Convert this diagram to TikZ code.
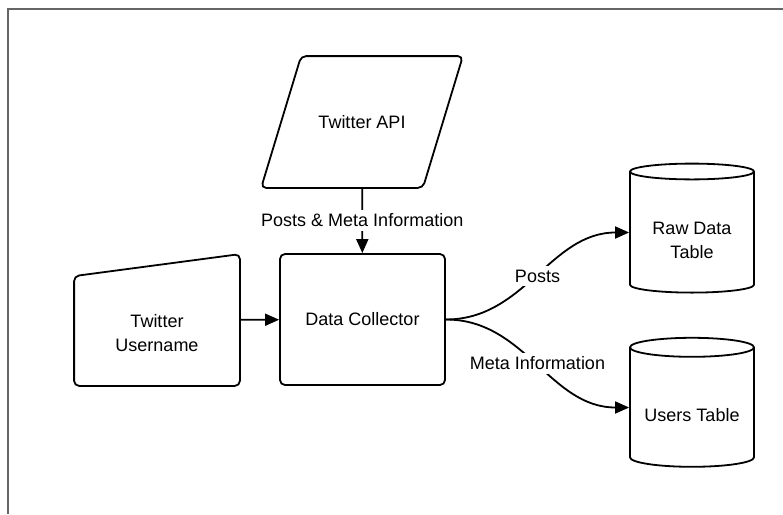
\documentclass[tikz,border=0pt]{standalone}
\usepackage{fontspec}
\setmainfont{Liberation Sans}
\usetikzlibrary{positioning,shapes.geometric,arrows.meta}

\begin{document}
\begin{tikzpicture}[x=1pt,y=-1pt,line width=1.8pt,
  every node/.style={font=\fontsize{18}{24}\selectfont,align=center},
  box/.style={draw,rounded corners=5pt,minimum width=165pt,minimum height=131pt,inner sep=0pt},
  slot/.style={minimum width=160pt,minimum height=130pt,inner sep=0pt},
  tank/.style={draw,cylinder,shape border rotate=90,aspect=0.2,minimum width=124pt,minimum height=129pt,inner sep=0pt,text height=28pt},
  flow/.style={-{Triangle[length=14pt,width=12pt]}},
  tag/.style={fill=white,inner sep=4pt}]
\useasboundingbox (0,0) rectangle (783,514);
\draw[line width=1.2pt,black!60] (8,514)--(8,9)--(783,9);
\node[slot] (api) at (362,122) {Twitter API};
\draw[rounded corners=5pt] ([xshift=20pt]api.north west)--([xshift=20pt]api.north east)--([xshift=-20pt]api.south east)--([xshift=-20pt]api.south west)--cycle;
\node[box] (dc) at (362.5,319.5) {Data Collector};
\node[slot,minimum width=164pt] (user) at (157,320) {};
\node (usertext) at (157,333) {Twitter\\Username};
\draw[rounded corners=5pt] (user.south west)--([yshift=-22pt]user.north west)--(user.north east)--(user.south east)--cycle;
\node[tank,text height=53pt] (raw) at (692,232.5) {Raw Data\\Table};
\node[tank] (users) at (692,407.5) {Users Table};
\draw[flow] (api)--node[tag] {Posts \& Meta Information} (dc);
\draw[flow] (user)--(dc);
\draw[flow] (dc.east) to[out=0,in=180] node[tag] {Posts} (raw.west);
\draw[flow] (dc.east) to[out=0,in=180] node[tag] {Meta Information} (users.west);
\end{tikzpicture}
\end{document}
